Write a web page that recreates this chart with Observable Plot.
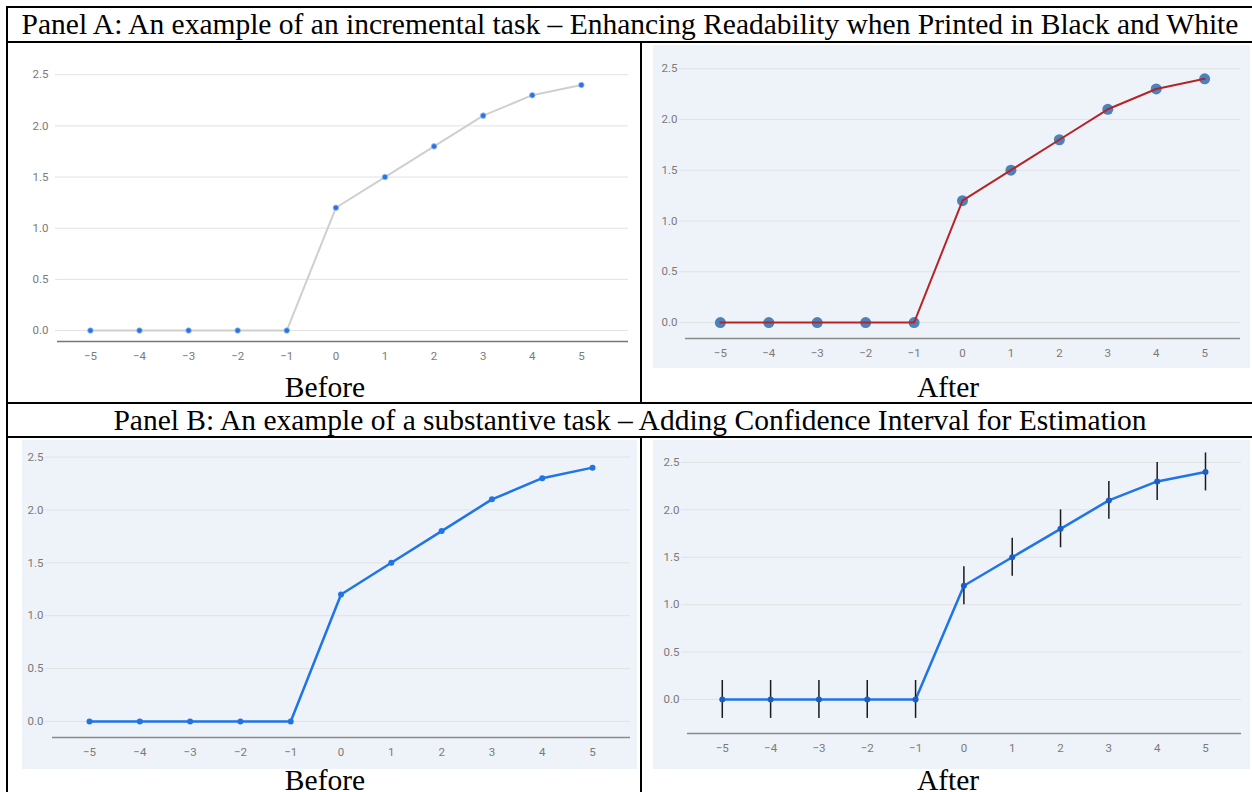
<!DOCTYPE html>
<html>
<head>
<meta charset="utf-8">
<script src="https://cdn.jsdelivr.net/npm/d3@7"></script>
<script src="https://cdn.jsdelivr.net/npm/@observablehq/plot@0.6"></script>
<style>
  html, body { margin: 0; padding: 0; background: #fff; width: 1252px; height: 792px; overflow: hidden; }
  .abs { position: absolute; }
  .bline { position: absolute; background: #000; }
  .title { position: absolute; font-family: "Liberation Serif", "Times New Roman", serif; font-size: 29.5px; color: #000; text-align: center; white-space: nowrap; line-height: 1; }
  .chart svg { display: block; }
</style>
</head>
<body>
<script>
// ---- data ----
const xValues = [-5, -4, -3, -2, -1, 0, 1, 2, 3, 4, 5];
const yValues = [0, 0, 0, 0, 0, 1.2, 1.5, 1.8, 2.1, 2.3, 2.4];
const ciLow  = [-0.2, -0.2, -0.2, -0.2, -0.2, 1.0, 1.3, 1.6, 1.9, 2.1, 2.2];
const ciHigh = [0.2, 0.2, 0.2, 0.2, 0.2, 1.4, 1.7, 2.0, 2.3, 2.5, 2.6];
const yTicks = [0, 0.5, 1.0, 1.5, 2.0, 2.5];
const xTicks = [-5, -4, -3, -2, -1, 0, 1, 2, 3, 4, 5];
const panelATitle = "Panel A: An example of an incremental task \u2013 Enhancing Readability when Printed in Black and White";
const panelBTitle = "Panel B: An example of a substantive task \u2013 Adding Confidence Interval for Estimation";
const beforeLabel = "Before";
const afterLabel = "After";

const rows = xValues.map((x, i) => ({x, y: yValues[i], lo: ciLow[i], hi: ciHigh[i]}));

function el(cls, css, text) {
  const d = document.createElement("div");
  d.className = cls;
  Object.assign(d.style, css);
  if (text != null) d.textContent = text;
  document.body.appendChild(d);
  return d;
}

// ---- table borders ----
el("bline", {left: "6px", top: "6px", width: "1246px", height: "2px"});
el("bline", {left: "6px", top: "6px", width: "2px", height: "786px"});
el("bline", {left: "6px", top: "41px", width: "1246px", height: "2px"});
el("bline", {left: "6px", top: "402px", width: "1246px", height: "2px"});
el("bline", {left: "6px", top: "436px", width: "1246px", height: "2px"});
el("bline", {left: "640px", top: "41px", width: "2px", height: "362px"});
el("bline", {left: "640px", top: "436px", width: "2px", height: "356px"});

// ---- titles ----
el("title", {left: "8px", width: "1244px", top: "10px"}, panelATitle);
el("title", {left: "8px", width: "1244px", top: "406px"}, panelBTitle);
el("title", {left: "225px", width: "200px", top: "373px"}, beforeLabel);
el("title", {left: "848px", width: "200px", top: "373px"}, afterLabel);
el("title", {left: "225px", width: "200px", top: "766px"}, beforeLabel);
el("title", {left: "848px", width: "200px", top: "766px"}, afterLabel);

function chart(o) {
  const marks = [
    Plot.ruleY(yTicks, {stroke: "#e2e2e2", strokeWidth: 1, insetLeft: o.gridInset || 0}),
    Plot.ruleY([o.yDomain[0]], {stroke: o.axisColor || "#8a8a8a", strokeWidth: 1.5}),
    ...o.marks
  ];
  const p = Plot.plot({
    width: o.width, height: o.height,
    marginTop: o.mt, marginBottom: o.mb, marginLeft: o.ml, marginRight: o.mr,
    style: {background: o.bg || "transparent", fontFamily: "Roboto, 'Noto Sans', sans-serif", fontSize: "11.5px", color: "#7a7a7a"},
    x: {domain: o.xDomain, ticks: xTicks, tickSize: 0, tickPadding: 10, label: null},
    y: {domain: o.yDomain, ticks: yTicks, tickSize: 0, tickPadding: o.yPad || 9, tickFormat: d3.format(".1f"), label: null},
    marks
  });
  const wrap = el("abs chart", {left: o.left + "px", top: o.top + "px", width: o.width + "px", height: o.height + "px", background: o.bg || "transparent"});
  wrap.appendChild(p);
}

// Panel A - Before
chart({
  left: 8, top: 43, width: 630, height: 325,
  mt: 21, mb: 27, ml: 49, mr: 10,
  xDomain: [-5.67, 5.96], yDomain: [-0.107, 2.6],
  gridInset: -2, axisColor: "#777",
  marks: [
    Plot.line(rows, {x: "x", y: "y", stroke: "#cfcfcf", strokeWidth: 2}),
    Plot.dot(rows, {x: "x", y: "y", r: 2.8, fill: "#2b74e0", stroke: "#9ec1f3", strokeWidth: 0.8})
  ]
});

// Panel A - After
chart({
  left: 653, top: 45, width: 597, height: 323,
  mt: 13, mb: 30, ml: 32, mr: 10,
  xDomain: [-5.72, 5.74], yDomain: [-0.157, 2.6],
  bg: "#eef2f9", gridInset: -6, yPad: 8,
  marks: [
    Plot.dot(rows, {x: "x", y: "y", r: 5.5, fill: "#4a83bb"}),
    Plot.line(rows, {x: "x", y: "y", stroke: "#b52426", strokeWidth: 2})
  ]
});

// Panel B - Before
chart({
  left: 22, top: 440, width: 615, height: 329,
  mt: 6, mb: 32, ml: 30, mr: 7,
  xDomain: [-5.736, 5.755], yDomain: [-0.152, 2.6],
  bg: "#eef2f9", gridInset: -7, yPad: 9,
  marks: [
    Plot.line(rows, {x: "x", y: "y", stroke: "#1f74e6", strokeWidth: 2.5}),
    Plot.dot(rows, {x: "x", y: "y", r: 3, fill: "#1f74e6"})
  ]
});

// Panel B - After
chart({
  left: 653, top: 440, width: 597, height: 329,
  mt: 3, mb: 36, ml: 34, mr: 9,
  xDomain: [-5.72, 5.745], yDomain: [-0.359, 2.7],
  bg: "#eef2f9", gridInset: -6, yPad: 8,
  marks: [
    Plot.line(rows, {x: "x", y: "y", stroke: "#1f74e6", strokeWidth: 2.5}),
    Plot.ruleX(rows, {x: "x", y1: "lo", y2: "hi", stroke: "#1a1a1a", strokeWidth: 1.5}),
    Plot.dot(rows, {x: "x", y: "y", r: 3, fill: "#1a5fc4"})
  ]
});
</script>
</body>
</html>
